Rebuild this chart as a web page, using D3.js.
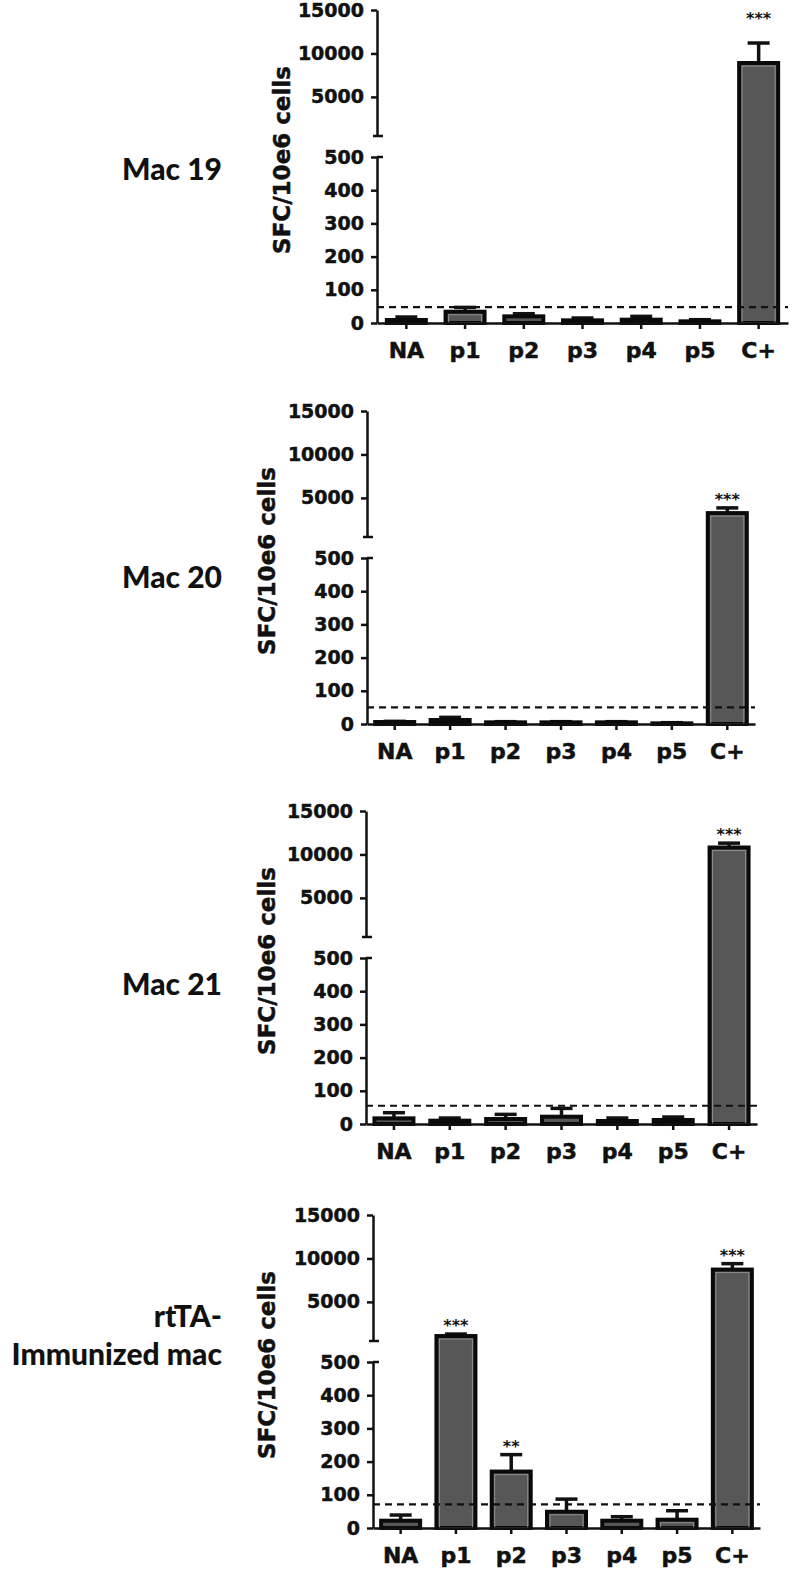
<!DOCTYPE html>
<html>
<head>
<meta charset="utf-8">
<script src="https://cdn.jsdelivr.net/npm/d3@7"></script>
<style>
  body { margin: 0; background: #fff; }
  .tick text { font-family: "DejaVu Sans", sans-serif; font-weight: bold; fill: #111; stroke: #111; stroke-width: 0.5px; }
  .row-label { font-family: Lato, "Open Sans", sans-serif; font-weight: 900; font-size: 30px; fill: #111; }
  .y-title { font-family: "DejaVu Sans", sans-serif; font-weight: bold; font-size: 23px; fill: #111; stroke: #111; stroke-width: 0.5px; }
  .stars { font-family: "DejaVu Sans", sans-serif; font-weight: bold; font-size: 16px; fill: #111; }
</style>
</head>
<body>
<div id="wrapper"></div>
<script>
// 1. Data

const categories = ["NA", "p1", "p2", "p3", "p4", "p5", "C+"];
const panelNames = [["Mac 19"], ["Mac 20"], ["Mac 21"], ["rtTA-", "Immunized mac"]];

const mac19Means = [9, 34, 20, 8, 10, 5, 8900];
const mac19Sem = [9, 13, 8, 7, 10, 5, 2300];
const mac20Means = [6, 12, 5, 5, 5, 2, 3250];
const mac20Sem = [2, 8, 2, 2, 2, 2, 600];
const mac21Means = [17, 10, 15, 22, 9, 12, 10800];
const mac21Sem = [17, 8, 14, 25, 9, 9, 500];
const rttaMeans = [22, 1070, 170, 49, 22, 25, 8720];
const rttaSem = [17, 230, 51, 38, 12, 27, 680];

const cutoffs = [48, 50, 55, 71];

const mac19Stars = [{ cat: "C+", text: "***" }];
const mac20Stars = [{ cat: "C+", text: "***" }];
const mac21Stars = [{ cat: "C+", text: "***" }];
const rttaStars = [{ cat: "p1", text: "***" }, { cat: "p2", text: "**" }, { cat: "C+", text: "***" }];

const lowerTicks = [0, 100, 200, 300, 400, 500];
const upperTicks = [5000, 10000, 15000];
const breakValue = 500;
const maxValue = 15000;

const panels = [
  { means: mac19Means, sem: mac19Sem, stars: mac19Stars },
  { means: mac20Means, sem: mac20Sem, stars: mac20Stars },
  { means: mac21Means, sem: mac21Sem, stars: mac21Stars },
  { means: rttaMeans, sem: rttaSem, stars: rttaStars },
];

// 2. Dimensions

const dimensions = {
  width: 792,
  height: 1570,
  upperHeight: 126,
  gap: 21,
  lowerHeight: 166,
  barWidth: 39,
  capWidth: 22,
};

// per panel layout
const layout = [
  { top: 10, axisX: 377, axisEnd: 788, titleX: 290, labelY: [170], starLift: 16 },
  { top: 411, axisX: 367, axisEnd: 755, titleX: 275, labelY: [177], starLift: 0 },
  { top: 811, axisX: 366, axisEnd: 757, titleX: 275, labelY: [184], starLift: 0 },
  { top: 1215, axisX: 373, axisEnd: 760, titleX: 275, labelY: [112, 150], starLift: 0 },
];

// 3. Draw canvas

const wrapper = d3.select("#wrapper")
  .append("svg")
    .attr("width", dimensions.width)
    .attr("height", dimensions.height);

panels.forEach((panel, i) => drawPanel(panel, layout[i], panelNames[i], cutoffs[i]));

function drawPanel(panel, lay, name, cutoff) {
  const g = wrapper.append("g");

  // 4. Scales
  const yUpperBottom = lay.top + dimensions.upperHeight;
  const yLowerTop = yUpperBottom + dimensions.gap;
  const yZero = yLowerTop + dimensions.lowerHeight;

  const upperScale = d3.scaleLinear()
    .domain([breakValue, maxValue])
    .range([yUpperBottom, lay.top]);
  const lowerScale = d3.scaleLinear()
    .domain([0, breakValue])
    .range([yZero, yLowerTop]);
  const yPos = v => v <= breakValue ? lowerScale(v) : upperScale(v);

  const xScale = d3.scaleBand()
    .domain(categories)
    .range([lay.axisX, lay.axisEnd])
    .padding(0);
  const xCenter = c => xScale(c) + xScale.bandwidth() / 2;

  const rows = categories.map((c, j) => ({ cat: c, mean: panel.means[j], sem: panel.sem[j] }));

  // 5. Draw data

  // error bars (upper only), drawn under the bars
  const err = g.append("g")
    .attr("stroke", "#111")
    .attr("stroke-width", 3.5);
  err.selectAll("line.v")
    .data(rows)
    .join("line")
      .attr("class", "v")
      .attr("x1", d => xCenter(d.cat))
      .attr("x2", d => xCenter(d.cat))
      .attr("y1", d => yPos(d.mean))
      .attr("y2", d => yPos(d.mean + d.sem));
  err.selectAll("line.cap")
    .data(rows)
    .join("line")
      .attr("class", "cap")
      .attr("x1", d => xCenter(d.cat) - dimensions.capWidth / 2)
      .attr("x2", d => xCenter(d.cat) + dimensions.capWidth / 2)
      .attr("y1", d => yPos(d.mean + d.sem))
      .attr("y2", d => yPos(d.mean + d.sem));

  g.append("g")
    .selectAll("rect")
    .data(rows)
    .join("rect")
      .attr("x", d => xCenter(d.cat) - dimensions.barWidth / 2)
      .attr("y", d => yPos(d.mean))
      .attr("width", dimensions.barWidth)
      .attr("height", d => yZero - yPos(d.mean))
      .attr("fill", "#575757")
      .attr("stroke", "#0a0a0a")
      .attr("stroke-width", 4);

  // thin light line just inside the black edge
  g.append("g")
    .selectAll("rect")
    .data(rows.filter(d => yZero - yPos(d.mean) > 8))
    .join("rect")
      .attr("x", d => xCenter(d.cat) - dimensions.barWidth / 2 + 3)
      .attr("y", d => yPos(d.mean) + 3)
      .attr("width", dimensions.barWidth - 6)
      .attr("height", d => yZero - yPos(d.mean) - 3)
      .attr("fill", "none")
      .attr("stroke", "#8e8e8e")
      .attr("stroke-width", 1);

  // cutoff line
  g.append("line")
    .attr("x1", lay.axisX)
    .attr("x2", lay.axisEnd)
    .attr("y1", lowerScale(cutoff))
    .attr("y2", lowerScale(cutoff))
    .attr("stroke", "#111")
    .attr("stroke-width", 2.2)
    .attr("stroke-dasharray", "7,5");

  // significance stars
  g.append("g")
    .selectAll("text")
    .data(panel.stars)
    .join("text")
      .attr("class", "stars")
      .attr("text-anchor", "middle")
      .attr("x", d => xCenter(d.cat))
      .attr("y", d => {
        const r = rows.find(row => row.cat === d.cat);
        return yPos(r.mean + r.sem) - 3 - lay.starLift;
      })
      .text(d => d.text);

  // 6. Draw peripherals

  const upperAxis = g.append("g")
    .attr("transform", `translate(${lay.axisX},0)`)
    .call(d3.axisLeft(upperScale).tickValues(upperTicks).tickFormat(d3.format("d"))
      .tickSize(6).tickSizeOuter(0).tickPadding(7));
  const lowerAxis = g.append("g")
    .attr("transform", `translate(${lay.axisX},0)`)
    .call(d3.axisLeft(lowerScale).tickValues(lowerTicks).tickFormat(d3.format("d"))
      .tickSize(6).tickSizeOuter(0).tickPadding(7));
  [upperAxis, lowerAxis].forEach(ax => {
    ax.selectAll(".tick text").style("font-size", "19px");
    ax.selectAll("path, line").attr("stroke", "#111").attr("stroke-width", 2.5);
  });

  // break marks
  g.append("line")
    .attr("x1", lay.axisX - 4).attr("x2", lay.axisX + 6)
    .attr("y1", upperScale(breakValue)).attr("y2", upperScale(breakValue))
    .attr("stroke", "#111").attr("stroke-width", 2.5);
  g.append("line")
    .attr("x1", lay.axisX).attr("x2", lay.axisX + 6)
    .attr("y1", lowerScale(breakValue)).attr("y2", lowerScale(breakValue))
    .attr("stroke", "#111").attr("stroke-width", 2.5);

  const xAxis = g.append("g")
    .attr("transform", `translate(0,${yZero})`)
    .call(d3.axisBottom(xScale).tickSize(6).tickSizeOuter(0).tickPadding(13));
  xAxis.selectAll(".tick text").style("font-size", "22px");
  xAxis.selectAll("path, line").attr("stroke", "#111").attr("stroke-width", 2.5);

  g.append("text")
    .attr("class", "y-title")
    .attr("text-anchor", "middle")
    .attr("transform", `translate(${lay.titleX},${lay.top + 150}) rotate(-90)`)
    .text("SFC/10e6 cells");

  g.append("g")
    .selectAll("text")
    .data(name)
    .join("text")
      .attr("class", "row-label")
      .attr("text-anchor", "end")
      .attr("x", 222)
      .attr("y", (d, k) => lay.top + lay.labelY[k])
      .text(d => d);
}
</script>
</body>
</html>
